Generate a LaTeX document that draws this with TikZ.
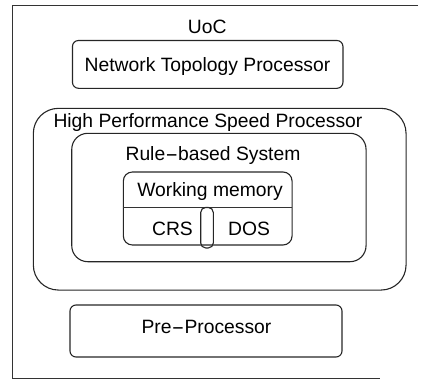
\documentclass[tikz,border=0pt]{standalone}
\usepackage{fontspec}
\setmainfont{Liberation Sans}
% a long hyphen, as the labels set it
\newcommand{\longhyph}{\scalebox{2}[1]{-}}
\begin{document}
\begin{tikzpicture}[x=1pt,y=-1pt,
  frame/.style={draw=black!80, line width=1pt},
  box/.style={draw=black!85, line width=1.1pt, rounded corners=#1,
              rectangle, inner sep=0pt},
  lbl/.style={font=\fontsize{19.3}{22}\selectfont, inner sep=0pt, anchor=base},
]
\useasboundingbox (0,0) rectangle (421,380);

% outer frame of the UoC
\draw[frame] (418,5) -- (12.5,5) -- (12.5,378) -- (380,378);
\node[lbl] (uoc) at (207.3,33) {UoC};

% network topology processor
\node[box=6pt, minimum width=270.5pt, minimum height=47.8pt] (ntp) at (207.7,64.4) {};
\node[lbl] (ntplbl) at (207.5,71.7) {Network Topology Processor};

% high performance speed processor
\node[box=25pt, minimum width=372.7pt, minimum height=181.7pt] (hpsp) at (219.7,199.2) {};
\node[lbl, anchor=base west] (hpsplbl) at (53.3,127.7) {High Performance Speed Processor};

% rule-based system
\node[box=16pt, minimum width=294.3pt, minimum height=128.4pt] (rbs) at (218.9,197.5) {};
\node[lbl] (rbslbl) at (213,160) {Rule\longhyph based System};

% working memory with its two parts
\node[box=9pt, minimum width=168.7pt, minimum height=73pt] (wm) at (207.7,208.5) {};
\node[lbl] (wmlbl) at (210,196.7) {Working memory};
\coordinate (divL) at (123.3,207.5);
\coordinate (divR) at (292,207.5);
\draw[frame, line width=1.1pt] (divL) -- (divR);
\node[box=5pt, minimum width=12.6pt, minimum height=40.5pt] (slot) at (207,227.7) {};
\node[lbl] (crs) at (172.5,235) {CRS};
\node[lbl] (dos) at (249,235) {DOS};

% pre-processor
\node[box=6pt, minimum width=272pt, minimum height=52pt] (pp) at (206,331) {};
\node[lbl] (pplbl) at (206.5,333) {Pre\longhyph Processor};
\end{tikzpicture}
\end{document}
